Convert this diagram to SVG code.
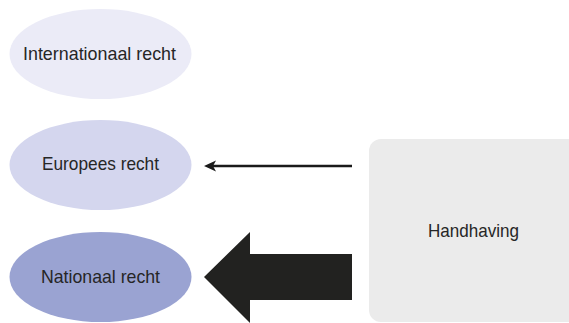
<svg xmlns="http://www.w3.org/2000/svg" width="569" height="323" viewBox="0 0 569 323">
  <style>
    .lbl { font-family: "Liberation Sans", Arial, sans-serif; font-size: 19px; fill: #262626; text-anchor: middle; }
  </style>
  <rect width="569" height="323" fill="#ffffff"/>

  <g id="internationaal">
    <ellipse cx="100.5" cy="54" rx="91" ry="45" fill="#ebebf7"/>
    <text class="lbl" x="99.5" y="60" textLength="153" lengthAdjust="spacingAndGlyphs">Internationaal recht</text>
  </g>

  <g id="europees">
    <ellipse cx="100.5" cy="165" rx="91" ry="45" fill="#d4d6ee"/>
    <text class="lbl" x="100.5" y="170" textLength="117" lengthAdjust="spacingAndGlyphs">Europees recht</text>
  </g>

  <g id="nationaal">
    <ellipse cx="100.5" cy="277" rx="91" ry="45" fill="#9aa3d2"/>
    <text class="lbl" x="100.5" y="283" textLength="119" lengthAdjust="spacingAndGlyphs">Nationaal recht</text>
  </g>

  <g id="handhaving">
    <rect x="369" y="139" width="214" height="183" rx="12" ry="12" fill="#ebebeb"/>
    <text class="lbl" x="473.5" y="237" textLength="91" lengthAdjust="spacingAndGlyphs">Handhaving</text>
  </g>

  <g id="connectors">
    <!-- thin arrow: Handhaving to Europees recht -->
    <line x1="352" y1="166" x2="212" y2="166" stroke="#1a1a1a" stroke-width="2.5"/>
    <path d="M204,166 L216,160.5 L213,166 L216,171.5 Z" fill="#1a1a1a"/>
    <!-- broad block arrow: Handhaving to Nationaal recht -->
    <path d="M352,254 L250,254 L250,232 L204,277 L250,323 L250,300 L352,300 Z" fill="#222220"/>
  </g>
</svg>
